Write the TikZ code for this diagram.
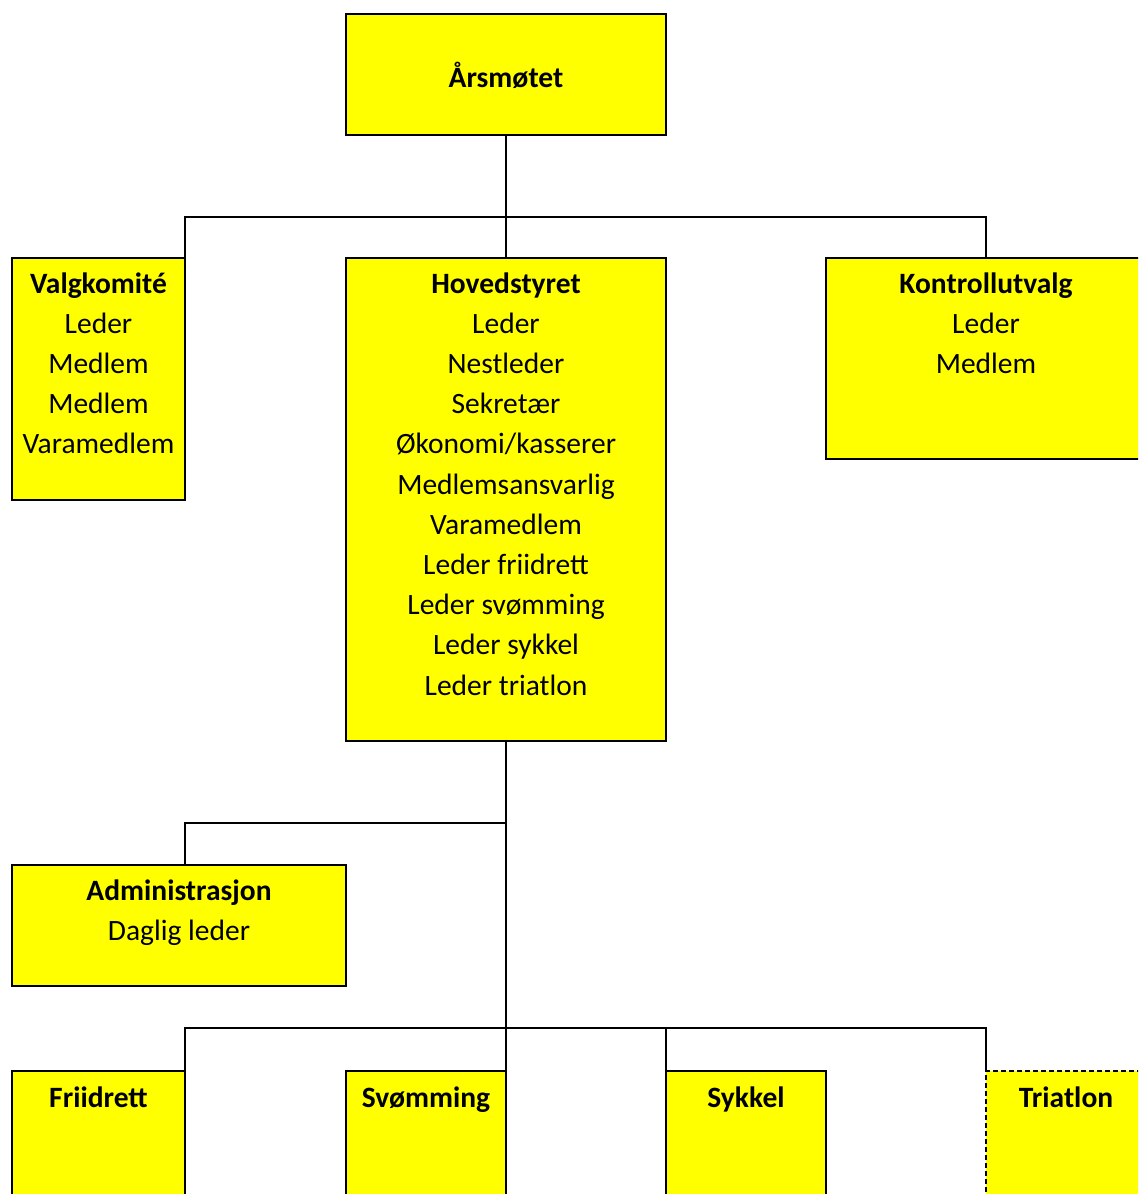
\documentclass[tikz,border=0pt]{standalone}
\usepackage{fontspec}
\setmainfont{Carlito}
\usetikzlibrary{calc}
\definecolor{boxyellow}{RGB}{255,255,0}
\tikzset{
  box/.style={draw=black, fill=boxyellow, line width=2.2pt, inner sep=0pt, outer sep=0pt, rectangle},
  dbox/.style={box, dashed, dash pattern=on 5pt off 3pt},
  txt/.style={anchor=base, inner sep=0pt, font=\fontsize{29.5}{34}\selectfont},
  head/.style={txt, font=\fontsize{29.5}{34}\selectfont\bfseries},
  conn/.style={draw=black, line width=2.2pt}
}
\begin{document}
\begin{tikzpicture}[x=1pt,y=-1pt]
\useasboundingbox (0,0) rectangle (1138,1194);
\begin{scope}
\clip (0,0) rectangle (1138,1194);
% boxes
\node[box, minimum width=320, minimum height=121] (ars) at (506,74.5) {};
\node[box, minimum width=173, minimum height=242] (valg) at (98.5,379) {};
\node[box, minimum width=320, minimum height=483] (hoved) at (506,499.5) {};
\node[box, minimum width=320, minimum height=201] (kontroll) at (986,358.5) {};
\node[box, minimum width=334, minimum height=121] (admin) at (179,925.5) {};
\node[box, minimum width=173, minimum height=180] (fri) at (98.5,1161) {};
\node[box, minimum width=160, minimum height=180] (svom) at (426,1161) {};
\node[box, minimum width=160, minimum height=180] (syk) at (746,1161) {};
\node[dbox, minimum width=160, minimum height=180] (tri) at (1066,1161) {};
% connectors
\coordinate (j1) at (506,217);
\coordinate (j2) at (506,823);
\coordinate (a1) at (185,823);
\coordinate (j3) at (506,1028);
\draw[conn] (ars.south) -- (hoved.north);
\draw[conn] (valg.north east) |- (j1) -| (kontroll.north);
\draw[conn] (hoved.south) -- (hoved.south |- svom.north);
\draw[conn] (j2) -- (a1) -- (a1 |- admin.north);
\draw[conn] (fri.north east) |- (j3) -| (tri.north west);
\draw[conn] (syk.north west) -- (syk.north west |- j3);
% texts
\node[head] (t-ars) at (506,87) {Årsmøtet};
\node[head] (t-valg) at (98.5,293) {Valgkomité};
\foreach \t [count=\i] in {Leder,Medlem,Medlem,Varamedlem}
  \node[txt] (t-valg-\i) at (98.5,293+40*\i) {\t};
\node[head] (t-hoved) at (506,293) {Hovedstyret};
\foreach \t [count=\i] in {Leder,Nestleder,Sekretær,Økonomi/kasserer,Medlemsansvarlig,Varamedlem,Leder friidrett,Leder svømming,Leder sykkel,Leder triatlon}
  \node[txt] (t-hoved-\i) at (506,293+40.2*\i) {\t};
\node[head] (t-kontroll) at (986,293) {Kontrollutvalg};
\foreach \t [count=\i] in {Leder,Medlem}
  \node[txt] (t-kontroll-\i) at (986,293+40*\i) {\t};
\node[head] (t-admin) at (179,900) {Administrasjon};
\node[txt] (t-admin-1) at (179,940) {Daglig leder};
\node[head] (t-fri) at (98.5,1107) {Friidrett};
\node[head] (t-svom) at (426,1107) {Svømming};
\node[head] (t-syk) at (746,1107) {Sykkel};
\node[head] (t-tri) at (1066,1107) {Triatlon};
\end{scope}
\end{tikzpicture}
\end{document}
